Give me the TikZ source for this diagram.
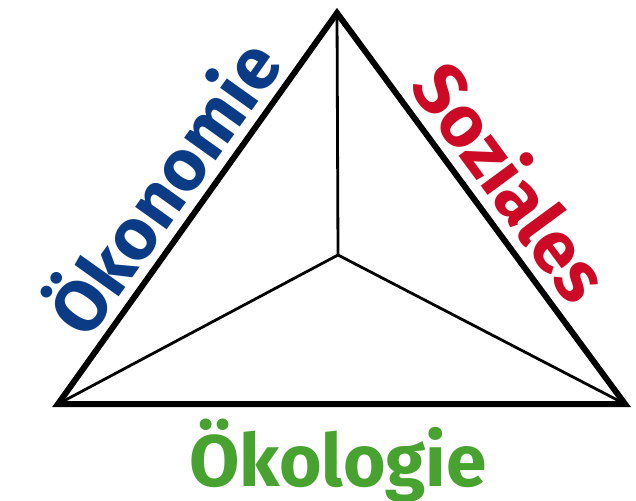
\documentclass[tikz,border=0pt]{standalone}
\usepackage{fontspec}
\setmainfont{Fira Sans}
\definecolor{oekonomie}{HTML}{0B3B85}
\definecolor{soziales}{HTML}{CC0A25}
\definecolor{oekologie}{HTML}{48A22F}
\begin{document}
\begin{tikzpicture}[x=1pt,y=-1pt,
  rim/.style={line width=6pt, line join=miter},
  spoke/.style={line width=2.8pt},
  label/.style={font=\fontsize{73}{73}\selectfont\bfseries, inner sep=0pt, anchor=base}]
\useasboundingbox (0,0) rectangle (636,500);
% corners of the triangle and its inner point
\coordinate (T) at (337,13);
\coordinate (L) at (58,404);
\coordinate (R) at (625,404);
\coordinate (C) at (338,255);
% spokes from the inner point
\draw[spoke] (C) -- (T);
\draw[spoke] (C) -- (L);
\draw[spoke] (C) -- (R);
% outer triangle
\draw[rim] (T) -- (L) -- (R) -- cycle;
% labels along the sides, baselines just outside the rim
\node[label, text=oekonomie, rotate=54.5] (oek) at (186,203) {Ökonomie};
\node[label, text=soziales, rotate=-53.6] (soz) at (490,198) {Soziales};
\node[label, text=oekologie] (oko) at (338,486) {Ökologie};
\end{tikzpicture}
\end{document}
